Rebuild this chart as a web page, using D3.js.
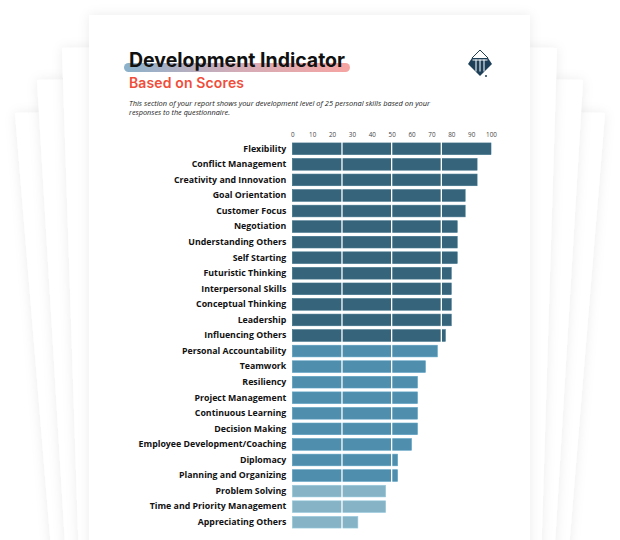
<!DOCTYPE html>
<html>
<head>
<meta charset="utf-8">
<script src="https://cdn.jsdelivr.net/npm/d3@7"></script>
<style>
  html, body { margin: 0; padding: 0; background: #fff; }
  svg { display: block; }
</style>
</head>
<body>
<div id="graph"></div>
<script>
'use strict';

let WIDTH = 620;
let HEIGHT = 540;

let skills = [
    'Flexibility', 'Conflict Management', 'Creativity and Innovation', 'Goal Orientation',
    'Customer Focus', 'Negotiation', 'Understanding Others', 'Self Starting',
    'Futuristic Thinking', 'Interpersonal Skills', 'Conceptual Thinking', 'Leadership',
    'Influencing Others', 'Personal Accountability', 'Teamwork', 'Resiliency',
    'Project Management', 'Continuous Learning', 'Decision Making',
    'Employee Development/Coaching', 'Diplomacy', 'Planning and Organizing',
    'Problem Solving', 'Time and Priority Management', 'Appreciating Others'
];
let scores = [100, 93, 93, 87, 87, 83, 83, 83, 80, 80, 80, 80, 77, 73, 67, 63, 63, 63, 63, 60, 53, 53, 47, 47, 33];
let ticks = [0, 10, 20, 30, 40, 50, 60, 70, 80, 90, 100];
let gridLines = [25, 50, 75];
let levelCuts = [50, 75];
let levelColors = ['#86b3c6', '#4f8eac', '#36647a'];

let TITLE = 'Development Indicator';
let SUBTITLE = 'Based on Scores';
let INTRO = [
    'This section of your report shows your development level of 25 personal skills based on your',
    'responses to the questionnaire.'
];

let svg = d3.select('#graph')
    .append('svg')
    .attr('width', WIDTH)
    .attr('height', HEIGHT);

let defs = svg.append('defs');

let shadow = defs.append('filter')
    .attr('id', 'page-shadow')
    .attr('x', '-20%').attr('y', '-20%')
    .attr('width', '140%').attr('height', '140%');
shadow.append('feDropShadow')
    .attr('dx', 0).attr('dy', 0)
    .attr('stdDeviation', 6)
    .attr('flood-color', '#000')
    .attr('flood-opacity', 0.08);

// user space units, a flat line has no bounding box height
let grad = defs.append('linearGradient')
    .attr('id', 'title-mark')
    .attr('gradientUnits', 'userSpaceOnUse')
    .attr('x1', 124).attr('x2', 350)
    .attr('y1', 0).attr('y2', 0);
grad.append('stop').attr('offset', '0%').attr('stop-color', '#7ea9c6');
grad.append('stop').attr('offset', '50%').attr('stop-color', '#cfa4b0');
grad.append('stop').attr('offset', '100%').attr('stop-color', '#f59b98');

// stacked pages behind the sheet
let backPages = [
    [[15, 113], [300, 108], [300, 560], [52, 560]],
    [[37, 80], [300, 76], [300, 560], [66, 560]],
    [[62, 48], [300, 45], [300, 560], [79, 560]],
    [[605, 113], [320, 108], [320, 560], [568, 560]],
    [[583, 80], [320, 76], [320, 560], [554, 560]],
    [[557, 48], [320, 45], [320, 560], [541, 560]]
];

svg.append('g')
    .selectAll('polygon')
    .data(backPages)
    .enter()
    .append('polygon')
    .attr('points', p => p.map(q => q.join(',')).join(' '))
    .attr('fill', '#fff')
    .attr('filter', 'url(#page-shadow)');

svg.append('rect')
    .attr('x', 89)
    .attr('y', 15)
    .attr('width', 441)
    .attr('height', 600)
    .attr('fill', '#fff')
    .attr('filter', 'url(#page-shadow)');

// heading
svg.append('line')
    .attr('x1', 128.5).attr('x2', 345.5)
    .attr('y1', 67.5).attr('y2', 67.5)
    .attr('stroke', 'url(#title-mark)')
    .attr('stroke-width', 9)
    .attr('stroke-linecap', 'round')
    .attr('opacity', 0.9);

svg.append('text')
    .attr('x', 129)
    .attr('y', 67)
    .attr('textLength', 216)
    .style('font-family', 'Inter, "DejaVu Sans", sans-serif')
    .style('font-weight', 700)
    .style('font-size', '19.5px')
    .attr('fill', '#111')
    .text(TITLE);

svg.append('text')
    .attr('x', 129)
    .attr('y', 87.5)
    .attr('textLength', 115)
    .style('font-family', 'Inter, "DejaVu Sans", sans-serif')
    .style('font-weight', 600)
    .style('font-size', '14px')
    .attr('fill', '#f04d3a')
    .text(SUBTITLE);

svg.append('g')
    .selectAll('text')
    .data(INTRO)
    .enter()
    .append('text')
    .attr('x', 129)
    .attr('y', (d, i) => 105.5 + i * 9)
    .attr('textLength', (d, i) => i == 0 ? 301 : 101)
    .attr('lengthAdjust', 'spacingAndGlyphs')
    .style('font-family', '"Open Sans", sans-serif')
    .style('font-style', 'italic')
    .style('font-size', '7.2px')
    .attr('fill', '#222')
    .text(d => d);

// logo
let logo = svg.append('g').attr('fill', '#1e3f58');
logo.append('path')
    .attr('d', 'M472,58 L480,50 L488,58')
    .attr('fill', 'none')
    .attr('stroke', '#1e3f58')
    .attr('stroke-width', 1);
logo.append('path')
    .attr('d', 'M472,58 L488,58 L492,64 L480,76 L468,64 Z');
logo.selectAll('.stripe')
    .data([475.5, 479.5, 483.5])
    .enter()
    .append('rect')
    .attr('x', d => d)
    .attr('y', 59.5)
    .attr('width', 1)
    .attr('height', 12)
    .attr('fill', '#fff');
logo.append('rect')
    .attr('x', 472.5).attr('y', 59.5)
    .attr('width', 15).attr('height', 1)
    .attr('fill', '#fff');
logo.append('circle')
    .attr('cx', 486).attr('cy', 76).attr('r', 1)
    .attr('fill', '#1e3f58');

// chart
let xScale = d3.scaleLinear()
    .domain([0, 100])
    .range([292.3, 491]);

let yScale = d3.scaleBand()
    .domain(skills)
    .range([141, 530])
    .paddingInner(0.25)
    .paddingOuter(0.125);

let color = d3.scaleThreshold()
    .domain(levelCuts)
    .range(levelColors);

let data = skills.map((s, i) => ({ name: s, score: scores[i] }));

let xAxis = d3.axisTop(xScale)
    .tickValues(ticks)
    .tickSize(0)
    .tickPadding(0);

let xAxisG = svg.append('g')
    .attr('transform', 'translate(0, 136.5)')
    .call(xAxis);
xAxisG.select('.domain').remove();
xAxisG.selectAll('text')
    .style('font-family', '"Open Sans", sans-serif')
    .style('font-size', '6.3px')
    .attr('fill', '#444');

svg.append('g')
    .selectAll('rect')
    .data(data)
    .enter()
    .append('rect')
    .attr('x', xScale(0))
    .attr('y', d => yScale(d.name))
    .attr('width', d => xScale(d.score) - xScale(0))
    .attr('height', yScale.bandwidth())
    .attr('fill', d => color(d.score))
    .attr('stroke', d => d3.color(color(d.score)).brighter(0.35))
    .attr('stroke-width', 0.6);

svg.append('g')
    .selectAll('line')
    .data(gridLines)
    .enter()
    .append('line')
    .attr('x1', d => xScale(d))
    .attr('x2', d => xScale(d))
    .attr('y1', yScale.range()[0])
    .attr('y2', yScale.range()[1])
    .attr('stroke', '#fff')
    .attr('stroke-width', 1.3);

let yAxis = d3.axisLeft(yScale)
    .tickSize(0)
    .tickPadding(6);

let yAxisG = svg.append('g')
    .attr('transform', 'translate(' + xScale(0) + ', 0)')
    .call(yAxis);
yAxisG.select('.domain').remove();
yAxisG.selectAll('text')
    .style('font-family', '"Open Sans", sans-serif')
    .style('font-weight', 700)
    .style('font-size', '8.8px')
    .attr('fill', '#111');
</script>
</body>
</html>
